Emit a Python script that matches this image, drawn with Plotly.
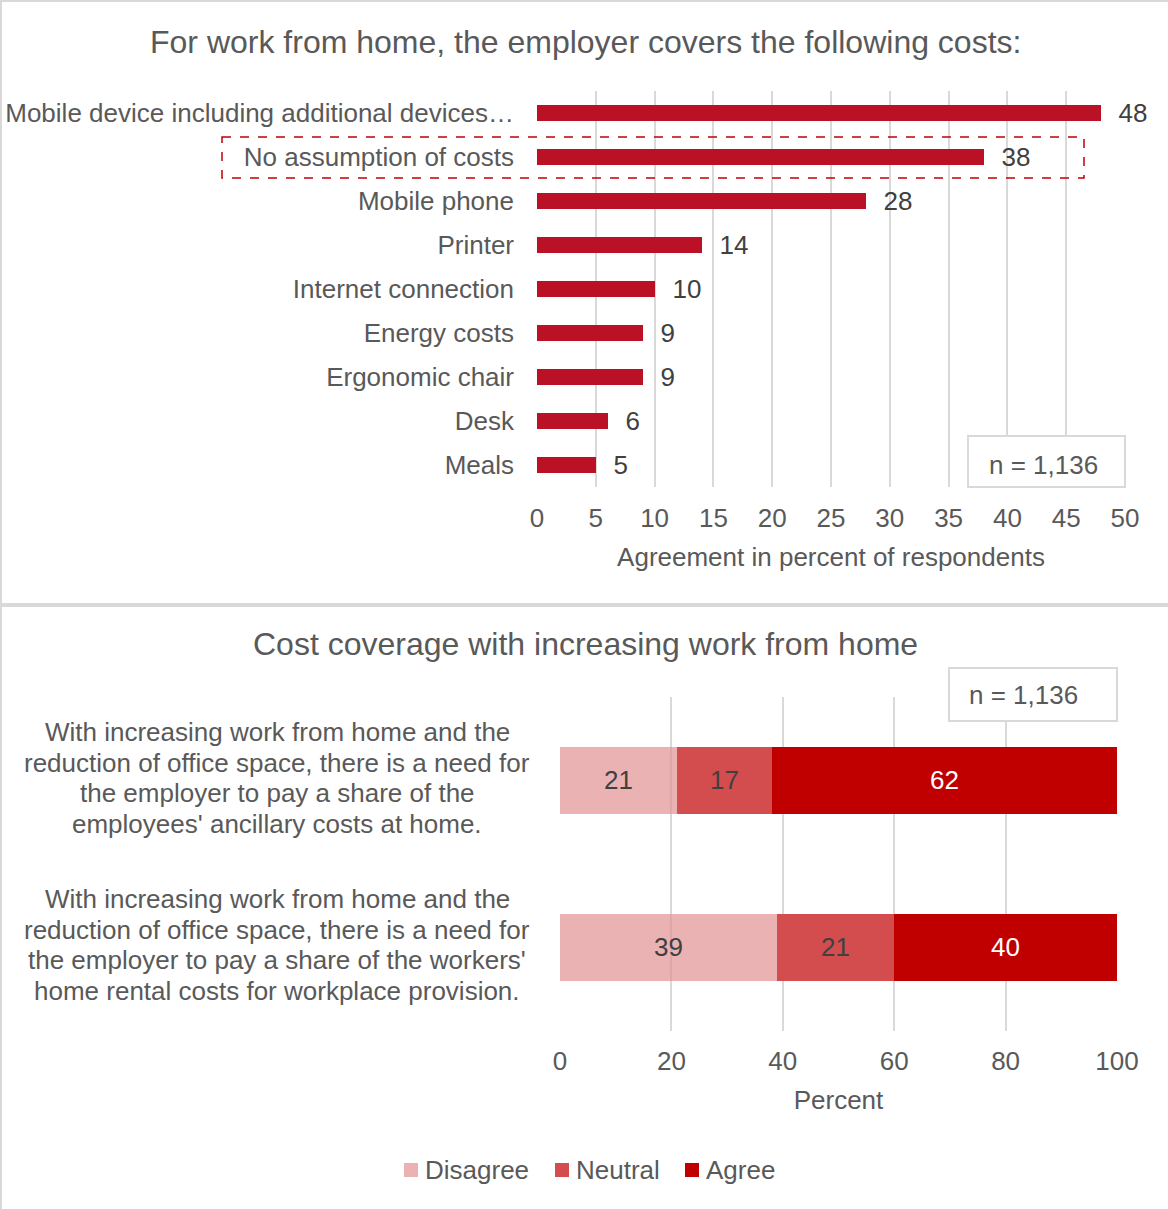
import plotly.graph_objects as go

# ---- data -------------------------------------------------------------
cost_items = [
    "Mobile device including additional devices…",
    "No assumption of costs",
    "Mobile phone",
    "Printer",
    "Internet connection",
    "Energy costs",
    "Ergonomic chair",
    "Desk",
    "Meals",
]
cost_share = [48, 38, 28, 14, 10, 9, 9, 6, 5]
cost_ticks = [0, 5, 10, 15, 20, 25, 30, 35, 40, 45, 50]

statements = ["ancillary", "rental"]
statement_lines = [
    ["With increasing work from home and the",
     "reduction of office space, there is a need for",
     "the employer to pay a share of the",
     "employees' ancillary costs at home."],
    ["With increasing work from home and the",
     "reduction of office space, there is a need for",
     "the employer to pay a share of the workers'",
     "home rental costs for workplace provision."],
]
disagree = [21, 39]
neutral = [17, 21]
agree = [62, 40]
pct_ticks = [0, 20, 40, 60, 80, 100]
sample_note = "n = 1,136"

# ---- styling ----------------------------------------------------------
W, H = 1168, 1209
FONT = "Liberation Sans, Arial, sans-serif"
GREY_TXT = "#595959"
DARK_TXT = "#404040"
GRID = "#D9D9D9"
BAR_RED = "#BA1127"
C_DIS = "rgba(225,145,145,0.70)"
C_NEU = "#D34C4E"
C_AGR = "#C00000"


def px(x):
    return x / W


def py(y):
    return 1 - y / H


fig = go.Figure()

# top panel: single-series horizontal bars
fig.add_trace(go.Bar(
    x=cost_share, y=cost_items, orientation="h",
    marker=dict(color=BAR_RED, line=dict(width=0)),
    width=0.36,
    text=cost_share, texttemplate="\u00a0\u00a0%{text}",
    textposition="outside", cliponaxis=False, constraintext="none",
    textfont=dict(size=26, color=DARK_TXT, family=FONT),
    xaxis="x", yaxis="y", showlegend=False, hoverinfo="x+y",
))

# bottom panel: stacked agreement bars
for name, vals, col, tcol in [
    ("Disagree", disagree, C_DIS, DARK_TXT),
    ("Neutral", neutral, C_NEU, DARK_TXT),
    ("Agree", agree, C_AGR, "white"),
]:
    fig.add_trace(go.Bar(
        x=vals, y=statements, orientation="h", name=name,
        marker=dict(color=col, line=dict(width=0)),
        width=0.4,
        text=vals, textposition="inside", insidetextanchor="middle",
        textangle=0, constraintext="none",
        textfont=dict(size=26, color=tcol, family=FONT),
        xaxis="x2", yaxis="y2", showlegend=False,
    ))

shapes = []
annotations = []

# panel frames
shapes.append(dict(type="rect", xref="paper", yref="paper",
                   x0=px(1), x1=px(W + 10), y0=py(1), y1=py(604),
                   line=dict(color=GRID, width=2), fillcolor="rgba(0,0,0,0)",
                   layer="below"))
shapes.append(dict(type="rect", xref="paper", yref="paper",
                   x0=px(1), x1=px(W + 10), y0=py(606), y1=py(H + 10),
                   line=dict(color=GRID, width=2), fillcolor="rgba(0,0,0,0)",
                   layer="below"))

# titles
annotations.append(dict(text="For work from home, the employer covers the following costs:",
                        xref="paper", yref="paper", x=px(585), y=py(42),
                        xanchor="center", yanchor="middle", showarrow=False,
                        font=dict(size=32, color=GREY_TXT, family=FONT)))
annotations.append(dict(text="Cost coverage with increasing work from home",
                        xref="paper", yref="paper", x=px(585), y=py(644),
                        xanchor="center", yanchor="middle", showarrow=False,
                        font=dict(size=32, color=GREY_TXT, family=FONT)))

# dashed highlight around "No assumption of costs"
shapes.append(dict(type="rect", xref="paper", yref="paper",
                   x0=px(222), x1=px(1084), y0=py(137), y1=py(178),
                   line=dict(color=C_AGR, width=1.5, dash="dash"),
                   fillcolor="rgba(0,0,0,0)", layer="above"))

# sample-size boxes
for (x0, x1, y0, y1, tx, ty) in [(968, 1125, 436, 487, 1043, 465),
                                 (949, 1117, 668, 721, 1023, 695)]:
    shapes.append(dict(type="rect", xref="paper", yref="paper",
                       x0=px(x0), x1=px(x1), y0=py(y0), y1=py(y1),
                       line=dict(color=GRID, width=2), fillcolor="white",
                       layer="above"))
    annotations.append(dict(text=sample_note, xref="paper", yref="paper",
                            x=px(tx), y=py(ty),
                            xanchor="center", yanchor="middle", showarrow=False,
                            font=dict(size=26, color=GREY_TXT, family=FONT)))

# statement labels, centred on their bars
line_gap = 30.7
for cat, lines in zip(statements, statement_lines):
    n = len(lines)
    for i, ln in enumerate(lines):
        annotations.append(dict(text=ln, xref="paper", yref="y2", x=px(277), y=cat,
                                xanchor="center", yanchor="middle", showarrow=False,
                                yshift=-(i - (n - 1) / 2) * line_gap + 2,
                                font=dict(size=26, color=GREY_TXT, family=FONT)))

# legend
for name, col, sx in [("Disagree", C_DIS, 404), ("Neutral", C_NEU, 555), ("Agree", C_AGR, 685)]:
    shapes.append(dict(type="rect", xref="paper", yref="paper",
                       x0=px(sx), x1=px(sx + 14), y0=py(1163), y1=py(1177),
                       line=dict(width=0), fillcolor=col))
    annotations.append(dict(text=name, xref="paper", yref="paper",
                            x=px(sx + 19), y=py(1170), xanchor="left", yanchor="middle",
                            showarrow=False,
                            font=dict(size=26, color=GREY_TXT, family=FONT)))

axis_font = dict(size=26, color=GREY_TXT, family=FONT)

fig.update_layout(
    width=W, height=H, autosize=False,
    margin=dict(l=0, r=0, t=0, b=0, pad=0, autoexpand=False),
    paper_bgcolor="white", plot_bgcolor="white",
    barmode="stack", bargap=0,
    font=dict(family=FONT, color=GREY_TXT),
    shapes=shapes, annotations=annotations,
    xaxis=dict(domain=[px(537), px(1125)], range=[0, 50],
               tickvals=cost_ticks, showgrid=True, gridcolor=GRID, gridwidth=1.5,
               zeroline=False, showline=False, ticks="", automargin=False,
               tickfont=axis_font, ticklabelstandoff=13,
               title=dict(text="Agreement in percent of respondents",
                          font=axis_font, standoff=15),
               anchor="y", fixedrange=True),
    yaxis=dict(domain=[py(487), py(91)], autorange="reversed",
               showgrid=False, zeroline=False, showline=False, ticks="",
               automargin=False,
               tickfont=axis_font, ticklabelstandoff=22,
               anchor="x", fixedrange=True),
    xaxis2=dict(domain=[px(560), px(1117)], range=[0, 100],
                tickvals=pct_ticks, showgrid=True, gridcolor=GRID, gridwidth=1.5,
                zeroline=False, showline=False, ticks="", automargin=False,
                tickfont=axis_font, ticklabelstandoff=12,
                title=dict(text="Percent", font=axis_font, standoff=16),
                anchor="y2", fixedrange=True),
    yaxis2=dict(domain=[py(1030.5), py(696.5)], autorange="reversed",
                showgrid=False, zeroline=False, showline=False, ticks="",
                showticklabels=False, automargin=False,
                anchor="x2", fixedrange=True),
)

fig.write_html("out.html")
